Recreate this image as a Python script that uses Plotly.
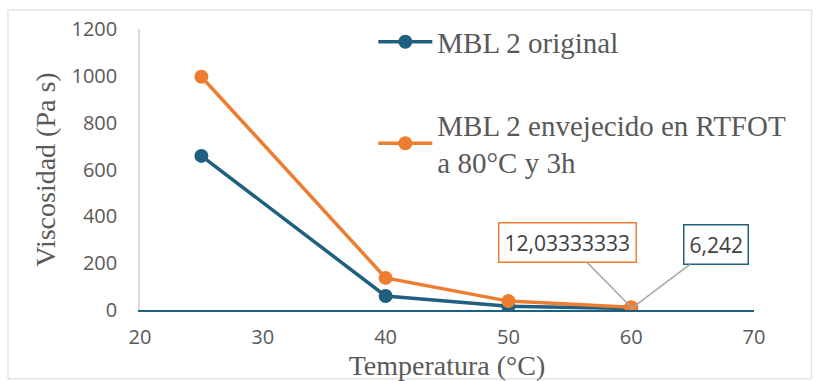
import plotly.graph_objects as go

temps = [25, 40, 50, 60]
original = [658, 60, 16, 6.242]
envejecido = [996, 137, 38, 12.03333333]
x_ticks = [20, 30, 40, 50, 60, 70]
y_ticks = [0, 200, 400, 600, 800, 1000, 1200]

BLUE = "#1f5f80"
ORANGE = "#ed7d31"
GRAY = "#595959"
SERIF = "Liberation Serif"
SANS = "Open Sans"

fig = go.Figure()
fig.add_trace(go.Scatter(x=temps, y=original, mode="lines+markers", name="MBL 2 original",
                         legendgroup="a",
                         line=dict(color=BLUE, width=3.5), marker=dict(size=14, color=BLUE)))
fig.add_trace(go.Scatter(x=temps, y=envejecido, mode="lines+markers",
                         name="MBL 2 envejecido en RTFOT<br>a 80°C y 3h", legendgroup="b",
                         line=dict(color=ORANGE, width=3.5), marker=dict(size=14, color=ORANGE)))

fig.add_annotation(x=temps[3], y=envejecido[3], text="12,03333333", showarrow=True,
                   arrowhead=0, arrowcolor="#a6a6a6", arrowwidth=1.5, axref="pixel", ayref="pixel",
                   ax=-64, ay=-65, bordercolor=ORANGE, borderwidth=1.5, borderpad=5, bgcolor="white",
                   font=dict(family=SANS, size=21, color="#404040"))
fig.add_annotation(x=temps[3], y=original[3], text="6,242", showarrow=True,
                   arrowhead=0, arrowcolor="#a6a6a6", arrowwidth=1.5, axref="pixel", ayref="pixel",
                   ax=85, ay=-64, bordercolor=BLUE, borderwidth=1.5, borderpad=5, bgcolor="white",
                   font=dict(family=SANS, size=21, color="#404040"))

# outer chart border
fig.add_shape(type="rect", xref="paper", yref="paper", x0=-0.215, x1=1.094, y0=-0.245, y1=1.068,
              line=dict(color="#d9d9d9", width=1), layer="below")

fig.update_layout(
    width=817, height=381,
    margin=dict(l=140, r=63, t=29, b=71),
    plot_bgcolor="white", paper_bgcolor="white",
    font=dict(family=SERIF, color=GRAY),
    showlegend=True,
    legend=dict(x=0.38, y=1.045, xanchor="left", yanchor="top", bgcolor="rgba(0,0,0,0)",
                font=dict(family=SERIF, size=29, color=GRAY), traceorder="grouped",
                tracegroupgap=42, itemwidth=54),
    xaxis=dict(range=[20, 70], tickvals=x_ticks, showgrid=False, zeroline=False,
               showline=True, linecolor=BLUE, linewidth=2, ticklabelstandoff=8,
               tickfont=dict(family=SANS, size=20, color=GRAY),
               title=dict(text="Temperatura (°C)", standoff=0,
                          font=dict(family=SERIF, size=28, color=GRAY))),
    yaxis=dict(range=[0, 1200], tickvals=y_ticks, showgrid=False, zeroline=False,
               showline=True, linecolor="#d9d9d9", linewidth=1.5, ticklabelstandoff=17,
               tickfont=dict(family=SANS, size=20, color=GRAY),
               title=dict(text="Viscosidad (Pa s)", standoff=8,
                          font=dict(family=SERIF, size=28, color=GRAY))),
)

fig.write_html("out.html")
